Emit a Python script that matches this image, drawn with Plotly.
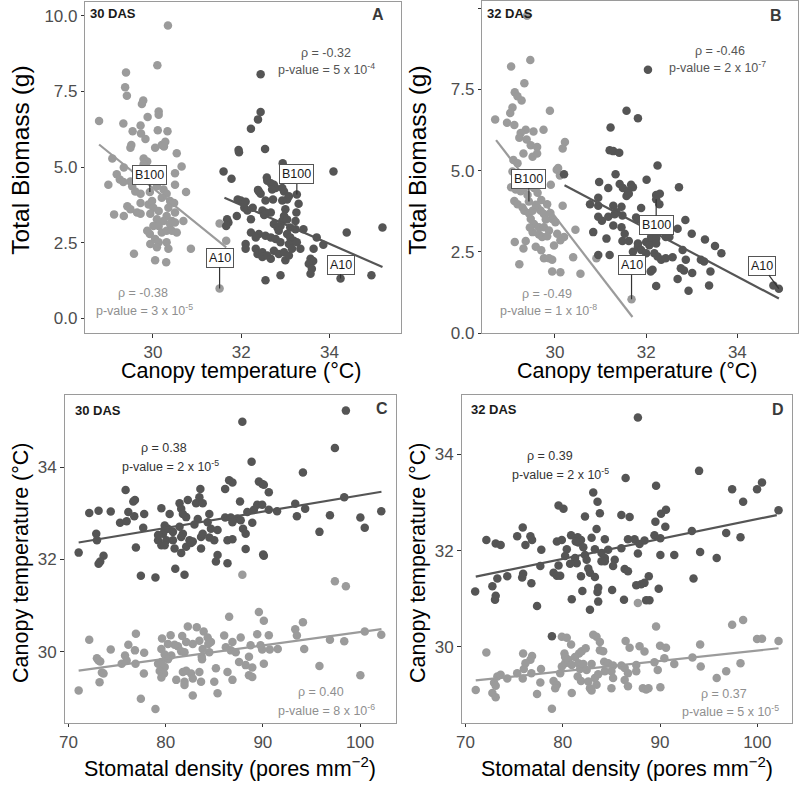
import plotly.graph_objects as go

# ---------------- DATA ----------------
# Panel A (30 DAS): canopy temperature (°C) vs total biomass (g)
a_light = [(30.34,9.68),(30.10,8.37),(29.39,8.13),(29.37,7.64),(29.41,7.36),(29.78,7.20),(29.75,7.09),(30.13,6.84),
           (30.13,6.73),(28.78,6.53),(29.33,6.44),(29.88,6.66),(29.72,6.38),(29.54,6.19),(29.73,6.11),(30.11,6.22),
           (30.33,6.19),(29.83,5.93),(29.51,5.73),(29.49,5.64),(30.05,5.64),(30.20,5.73),(30.28,5.84),(30.25,5.68),
           (30.54,5.46),(29.79,5.29),(29.87,5.19),(29.79,5.10),(29.08,5.29),(30.65,5.02),(30.50,4.80),(29.34,4.99),
           (29.18,4.77),(29.25,4.59),(29.33,4.51),(29.49,4.53),(29.53,4.37),(29.60,4.20),(29.72,4.12),(29.93,4.18),
           (30.24,4.26),(30.31,4.12),(30.20,3.99),(28.99,4.42),(30.09,4.37),(30.50,4.42),(30.75,4.18),(30.39,3.88),
           (30.48,3.82),(30.35,3.66),(29.42,3.71),(29.49,3.61),(29.72,3.82),(29.90,3.77),(29.98,3.88),(30.01,3.66),
           (29.12,3.44),(29.34,3.39),(29.64,3.50),(29.72,3.46),(29.94,3.46),(30.13,3.55),(30.31,3.39),(30.50,3.50),
           (30.43,3.22),(30.24,3.22),(30.39,3.12),(30.50,3.17),(30.09,3.28),(30.69,3.22),(30.01,3.06),(30.13,3.06),
           (29.87,2.90),(29.93,2.79),(30.20,2.84),(30.31,2.90),(30.43,2.90),(30.54,2.84),(30.05,2.63),(30.13,2.52),
           (30.09,2.35),(30.31,2.52),(30.35,2.30),(29.94,2.46),(30.86,2.30),(29.57,2.14),(30.05,1.92),(30.30,1.86),
           (31.51,3.14),(31.66,2.57),(31.51,0.99)]
a_dark = [(32.44,8.07),(32.44,6.82),(32.38,6.58),(32.22,6.27),(31.94,5.57),(31.95,5.49),(32.54,5.60),(32.94,5.13),
          (31.60,4.86),(31.78,4.62),(34.09,4.86),(32.58,4.66),(32.59,4.55),(32.67,4.47),(32.74,4.42),(32.78,4.31),
          (32.70,4.26),(32.40,4.20),(32.44,4.12),(32.38,4.25),(32.93,4.31),(32.97,4.20),(33.08,4.04),(33.04,3.93),
          (33.26,4.10),(33.30,3.79),(32.72,3.93),(32.55,3.90),(32.93,3.90),(31.92,3.93),(31.99,3.90),(32.10,3.86),
          (32.07,3.66),(32.14,3.57),(32.26,3.66),(32.48,3.57),(32.55,3.50),(32.67,3.50),(32.52,3.42),(31.90,3.39),
          (32.22,3.28),(33.00,3.61),(32.97,3.39),(32.93,3.22),(33.04,3.27),(33.25,3.50),(33.23,3.22),(32.74,3.12),
          (32.82,3.01),(32.89,3.06),(32.85,2.90),(33.11,3.01),(33.23,2.95),(33.41,2.95),(31.68,3.28),(31.71,3.17),
          (31.66,3.06),(32.22,2.84),(32.40,2.79),(32.33,2.68),(32.55,2.73),(32.67,2.68),(32.78,2.63),(32.89,2.52),
          (33.04,2.79),(33.11,2.68),(33.19,2.57),(33.08,2.46),(33.26,2.52),(33.34,2.30),(33.71,2.68),(33.86,2.44),
          (33.64,2.30),(33.57,1.97),(33.63,1.90),(33.53,1.81),(33.60,1.64),(33.57,1.48),(34.39,2.84),(35.20,3.01),
          (32.10,2.46),(32.10,2.30),(32.33,2.30),(32.37,2.13),(32.48,2.19),(32.48,2.03),(32.59,2.08),(32.67,1.97),
          (32.74,2.24),(32.85,2.13),(32.97,2.19),(33.00,1.92),(33.08,2.08),(33.15,2.30),(32.55,1.26),(32.89,1.43),
          (34.25,1.32),(34.95,1.43)]

# Panel B (32 DAS): canopy temperature (°C) vs total biomass (g)
b_light = [(29.39,9.76),(29.46,8.40),(29.04,8.20),(29.33,7.69),(29.12,7.41),(29.18,7.29),(29.27,7.16),(29.07,6.94),
           (29.02,6.77),(29.89,6.84),(28.69,6.57),(28.95,6.47),(29.11,6.40),(29.36,6.26),(29.53,6.20),(29.75,6.26),
           (29.25,6.16),(29.22,6.01),(29.38,5.96),(29.47,5.78),(29.61,5.73),(30.22,5.88),(30.17,5.68),(29.31,5.53),
           (29.51,5.43),(29.61,5.53),(29.09,5.33),(29.18,5.23),(29.07,4.97),(30.04,5.03),(30.11,4.85),(30.07,5.08),
           (29.91,4.57),(29.40,4.57),(29.04,4.49),(29.14,4.42),(29.25,4.37),(29.33,4.47),(29.43,4.05),(29.54,4.47),
           (29.62,4.32),(29.11,4.07),(29.18,3.97),(29.29,3.87),(29.33,3.77),(29.43,3.69),(29.51,3.77),(29.62,3.87),
           (29.69,3.77),(29.76,3.67),(29.83,3.97),(29.94,3.51),(30.01,3.41),(30.17,3.92),(29.47,3.51),(29.54,3.36),
           (29.65,3.26),(29.76,3.26),(29.87,3.16),(29.51,3.11),(29.65,3.04),(29.72,2.96),(29.83,2.98),(30.05,3.06),
           (30.20,2.96),(30.12,2.86),(30.45,3.18),(29.36,2.84),(29.31,2.61),(29.12,2.81),(29.58,2.66),(29.76,2.31),
           (29.87,2.31),(29.94,2.26),(30.40,2.34),(29.22,2.12),(29.94,1.90),(30.12,1.88),(30.56,1.83),(30.91,2.31),
           (31.68,1.05),(29.70,4.10),(29.80,3.50),(29.58,3.95),(29.90,3.70),(29.45,3.25),(29.98,2.70),(29.70,2.55),
           (29.40,4.25),(29.22,4.60)]
b_dark = [(32.04,8.10),(31.57,6.84),(31.82,6.61),(31.22,6.33),(31.20,5.63),(31.28,5.60),(31.41,5.55),(32.25,5.16),
          (31.33,4.89),(30.20,4.89),(32.01,4.72),(32.72,4.49),(30.97,4.65),(31.17,4.47),(31.42,4.59),(31.49,4.47),
          (31.67,4.57),(31.71,4.49),(31.60,4.37),(31.57,4.22),(31.62,4.29),(32.22,4.25),(32.30,4.29),(32.22,4.12),
          (32.29,3.97),(30.95,4.17),(30.77,3.97),(30.95,3.92),(31.28,3.92),(31.46,3.89),(31.35,3.72),(31.48,3.62),
          (31.89,3.85),(30.95,3.58),(31.03,3.46),(31.17,3.58),(31.31,3.66),(31.78,3.56),(31.82,3.51),(31.96,3.46),
          (32.03,3.44),(32.86,3.48),(30.84,3.11),(31.13,2.91),(31.28,3.31),(31.46,3.26),(31.53,3.06),(31.48,2.84),
          (31.62,2.84),(31.82,2.76),(32.00,2.81),(32.11,2.96),(32.14,2.86),(32.22,2.91),(32.07,2.71),(32.22,2.76),
          (32.43,2.96),(32.51,2.96),(32.69,3.21),(33.00,3.06),(33.29,2.88),(33.51,2.68),(33.65,2.46),(30.95,2.41),
          (31.20,2.41),(31.71,2.51),(31.82,2.66),(31.89,2.56),(32.00,2.46),(32.18,2.46),(32.25,2.36),(32.33,2.26),
          (32.43,2.31),(32.58,2.34),(32.80,2.56),(32.87,2.26),(33.20,2.26),(33.27,2.21),(32.76,2.00),(32.83,1.93),
          (33.01,1.85),(33.41,1.90),(32.14,1.95),(32.10,1.90),(31.78,1.97),(32.69,1.67),(32.22,1.45),(32.93,1.31),
          (33.38,1.47),(34.79,1.47),(34.91,1.37)]

# Panel C (30 DAS): stomatal density (pores mm-2) vs canopy temperature (°C)
c_light = [(86.53,30.76),(89.59,30.86),(90.10,30.67),(94.12,30.64),(93.33,30.49),(93.50,30.35),(100.48,30.44),
           (102.18,30.37),(96.90,30.26),(98.37,30.23),(94.25,30.06),(91.53,30.06),(95.82,29.69),(100.03,29.49),
           (72.14,30.26),(76.94,30.39),(74.35,30.05),(76.16,30.15),(76.84,30.03),(77.79,29.98),(75.82,29.92),
           (75.99,29.81),(75.48,29.74),(76.90,29.74),(72.93,29.86),(73.10,29.81),(73.27,29.79),(73.44,29.55),
           (73.61,29.53),(73.20,29.34),(71.05,29.16),(77.45,28.98),(78.95,28.76),(77.76,29.53),(79.63,30.29),
           (80.51,30.36),(81.70,30.34),(82.28,30.55),(83.20,30.53),(83.91,30.44),(84.32,30.31),(83.47,30.24),
           (82.79,30.17),(82.11,30.21),(81.26,30.12),(80.92,30.15),(80.24,30.17),(81.60,30.01),(81.94,29.99),
           (79.56,30.06),(79.90,29.94),(80.58,29.92),(80.24,29.84),(79.56,29.78),(79.22,29.74),(79.90,29.67),
           (79.39,29.58),(79.83,29.53),(79.56,29.44),(81.09,29.39),(81.77,29.56),(82.11,29.59),(82.62,29.53),
           (81.94,29.35),(82.79,29.42),(83.47,29.56),(83.64,29.35),(81.94,29.28),(82.79,29.05),(85.34,29.10),
           (85.17,29.64),(85.00,29.35),(83.71,29.89),(84.49,29.99),(83.81,30.06),(84.39,30.17),(84.66,30.21),
           (83.74,29.84),(86.02,30.35),(86.19,30.10),(86.70,30.03),(86.87,30.21),(87.72,30.31),(87.21,29.99),
           (86.36,29.56),(86.87,29.39),(87.55,29.78),(88.23,29.71),(88.57,29.89),(88.91,29.66),(88.57,29.49),
           (88.91,29.45),(88.74,30.14),(89.93,30.05),(90.10,29.74),(89.42,30.38),(89.76,30.14),(90.61,30.36),
           (90.71,30.05),(87.89,31.67),(97.41,31.53),(98.54,31.42)]
c_dark = [(87.89,34.99),(98.54,35.23),(97.41,34.42),(88.84,34.12),(94.12,33.89),(86.53,33.72),(86.87,33.67),
          (89.59,33.69),(89.93,33.64),(90.10,33.62),(90.61,33.46),(86.12,33.53),(75.88,33.51),(83.57,33.53),
          (76.84,33.29),(76.67,33.26),(81.43,33.22),(82.28,33.29),(83.13,33.22),(83.47,33.35),(83.81,33.22),
          (87.65,33.26),(98.37,33.35),(93.33,33.21),(94.35,33.10),(89.42,33.19),(89.93,33.19),(89.08,33.08),
          (88.40,33.03),(90.61,33.08),(91.46,33.05),(72.14,33.01),(73.10,33.06),(74.35,33.04),(76.16,33.03),
          (76.77,32.94),(77.79,32.99),(79.56,33.11),(80.41,32.99),(81.60,33.10),(81.77,32.99),(82.11,32.92),
          (84.49,32.99),(86.12,32.91),(86.70,32.91),(87.38,32.89),(93.50,32.94),(96.90,32.96),(100.03,32.91),
          (100.48,32.69),(102.18,33.05),(75.31,32.80),(75.99,32.83),(77.69,32.69),(79.90,32.74),(80.24,32.67),
          (79.73,32.56),(79.22,32.42),(79.90,32.64),(80.75,32.60),(81.43,32.71),(81.77,32.56),(83.30,32.88),
          (82.96,32.76),(84.32,32.81),(84.66,32.67),(85.34,32.64),(86.87,32.81),(87.72,32.85),(87.96,32.67),
          (88.91,32.80),(95.82,32.60),(72.86,32.56),(72.93,32.42),(79.22,32.53),(80.07,32.42),(79.56,32.31),
          (80.75,32.42),(81.60,32.49),(82.45,32.42),(82.79,32.39),(83.64,32.49),(83.81,32.56),(84.49,32.48),
          (85.00,32.42),(86.36,32.42),(86.87,32.44),(88.23,32.56),(76.94,32.26),(79.90,32.31),(80.92,32.24),
          (82.11,32.28),(82.62,32.36),(83.64,32.24),(81.60,32.14),(85.34,32.10),(85.17,31.96),(86.36,31.92),
          (88.23,32.23),(90.03,32.11),(90.10,32.08),(71.05,32.15),(73.61,32.08),(73.27,31.96),(73.10,31.91),
          (77.45,31.65),(78.95,31.61),(80.99,31.80),(81.94,31.67)]

# Panel D (32 DAS): stomatal density (pores mm-2) vs canopy temperature (°C)
d_light = [(87.72,30.91),(89.59,30.42),(97.41,30.46),(98.54,30.56),(99.97,30.16),(100.48,30.17),(102.18,30.12),
           (94.12,30.05),(90.00,30.02),(90.61,29.98),(86.46,30.12),(86.87,29.98),(87.89,30.01),(88.40,29.90),
           (83.13,30.25),(83.47,30.21),(83.81,30.10),(79.90,30.21),(80.41,30.19),(80.85,30.05),(81.67,29.86),
           (81.94,29.91),(82.35,29.97),(80.17,29.86),(80.24,29.79),(83.81,29.93),(84.15,29.91),(72.14,29.88),
           (75.92,29.86),(76.84,29.81),(76.67,29.73),(76.16,29.66),(75.99,29.54),(75.31,29.45),(74.29,29.34),
           (73.27,29.38),(73.61,29.42),(72.93,29.25),(73.10,29.19),(71.05,29.10),(72.76,29.04),(73.10,28.95),
           (75.88,29.34),(76.77,29.45),(77.76,29.54),(77.69,29.26),(77.35,29.02),(78.88,28.71),(79.05,29.29),
           (79.39,29.21),(79.90,29.59),(80.24,29.66),(80.58,29.73),(80.92,29.62),(81.26,29.79),(81.60,29.66),
           (81.77,29.54),(82.11,29.64),(82.96,29.64),(82.45,29.52),(79.73,29.45),(79.22,29.14),(80.92,29.04),
           (81.53,29.38),(81.87,29.29),(82.62,29.28),(82.79,29.14),(82.96,29.09),(83.47,29.21),(83.30,29.35),
           (83.64,29.43),(84.25,29.69),(84.66,29.66),(85.17,29.61),(85.00,29.49),(84.32,29.49),(85.17,29.35),
           (85.00,29.14),(86.02,29.61),(86.36,29.56),(86.70,29.45),(86.36,29.31),(86.70,29.18),(87.55,29.62),
           (87.55,29.49),(88.23,29.14),(88.57,29.11),(88.81,29.14),(90.03,29.16),(89.42,29.68),(89.76,29.52),
           (90.44,29.76),(91.46,29.64),(93.33,29.78),(94.18,29.59),(95.82,29.35),(96.80,29.49),(98.27,29.66)]
d_dark = [(87.72,34.77),(94.01,33.66),(86.46,33.51),(89.59,33.35),(97.41,33.28),(99.97,33.28),(100.48,33.42),
          (98.54,33.02),(102.18,32.84),(83.13,33.21),(83.57,33.02),(79.56,32.94),(80.07,32.87),(83.81,32.78),
          (82.28,32.71),(86.02,32.74),(86.87,32.70),(90.10,32.77),(90.61,32.85),(89.52,32.60),(90.54,32.50),
          (83.47,32.45),(75.88,32.48),(75.31,32.30),(76.67,32.30),(76.84,32.22),(76.16,32.12),(72.14,32.22),
          (73.10,32.15),(73.61,32.12),(77.79,32.02),(79.39,32.19),(79.90,32.22),(80.85,32.32),(81.53,32.28),
          (81.87,32.22),(81.60,32.17),(81.33,32.19),(82.96,32.27),(84.32,32.24),(82.11,32.07),(80.41,32.03),
          (80.24,31.89),(81.26,31.85),(81.43,31.74),(80.75,31.73),(79.56,31.69),(82.28,31.91),(82.45,31.81),
          (83.30,32.03),(83.98,31.95),(84.66,32.02),(84.32,31.85),(84.32,31.78),(85.34,31.81),(85.17,31.68),
          (83.98,31.78),(86.02,32.05),(86.70,32.24),(87.38,32.24),(88.40,32.21),(87.89,32.14),(89.42,32.32),
          (90.03,32.26),(87.72,31.94),(90.03,31.91),(91.46,31.91),(93.27,32.41),(94.12,31.97),(95.82,31.85),
          (96.80,32.37),(98.27,32.28),(77.69,31.68),(75.92,31.52),(75.82,31.44),(74.29,31.47),(73.27,31.42),
          (72.76,31.26),(70.99,31.15),(73.10,31.06),(73.03,30.98),(76.77,31.32),(77.35,30.85),(79.05,31.54),
          (79.39,31.48),(79.73,31.48),(81.87,31.47),(82.79,31.54),(83.30,31.45),(82.62,31.63),(86.36,31.62),
          (86.70,31.57),(88.84,31.47),(88.40,31.33),(88.06,31.30),(87.55,31.28),(89.86,31.21),(93.44,31.42),
          (83.64,31.23),(83.57,31.14),(85.07,31.18),(82.01,31.16),(80.92,30.99),(83.64,30.94),(82.79,30.77),
          (86.29,30.98),(88.57,30.97),(88.91,30.97),(78.88,30.22)]

# Fitted regression lines (end points)
a_fit_light = [(28.78,5.75),(31.66,2.35)]
a_fit_dark = [(31.62,3.99),(35.20,1.70)]
b_fit_light = [(28.71,5.94),(31.70,0.50)]
b_fit_dark = [(30.21,4.55),(34.91,1.07)]
c_fit_light = [(71.05,29.59),(102.2,30.49)]
c_fit_dark = [(71.05,32.37),(102.2,33.47)]
d_fit_light = [(71.05,29.30),(102.18,29.97)]
d_fit_dark = [(71.05,31.46),(102.0,32.74)]

# Correlation statistics text
stats_text = {
    "A": [("ρ = -0.32", "p-value = 5 x 10<sup>-4</sup>", "dark"), ("ρ = -0.38", "p-value = 3 x 10<sup>-5</sup>", "light")],
    "B": [("ρ = -0.46", "p-value = 2 x 10<sup>-7</sup>", "dark"), ("ρ = -0.49", "p-value = 1 x 10<sup>-8</sup>", "light")],
    "C": [("ρ = 0.38", "p-value = 2 x 10<sup>-5</sup>", "dark"), ("ρ = 0.40", "p-value = 8 x 10<sup>-6</sup>", "light")],
    "D": [("ρ = 0.39", "p-value = 2 x 10<sup>-5</sup>", "dark"), ("ρ = 0.37", "p-value = 5 x 10<sup>-5</sup>", "light")],
}
panel_day = {"A": "30 DAS", "B": "32 DAS", "C": "30 DAS", "D": "32 DAS"}
biomass_ticks = [0, 2.5, 5.0, 7.5, 10.0]
biomass_ticktext = ["0.0", "2.5", "5.0", "7.5", "10.0"]
temp_ticks_x = [30, 32, 34]
temp_ticks_y = [30, 32, 34]
density_ticks = [70, 80, 90, 100]

# ---------------- STYLE / LAYOUT ----------------
W, H = 800, 786
LIGHT = "#9b9b9b"
DARK = "#555555"
FONT = "Liberation Sans, Arial, Helvetica, sans-serif"

def pxx(px):
    return px / W

def pxy(py):
    return 1 - py / H

panels = {
    "A": dict(ax="x", ay="y", xdom=[80, 398], ydom=[1, 337], xr=[28.47, 35.62], yr=[-0.49, 10.46],
              light=a_light, dark=a_dark, fl=a_fit_light, fd=a_fit_dark),
    "B": dict(ax="x2", ay="y2", xdom=[480, 798], ydom=[0.5, 337], xr=[28.41, 35.33], yr=[0.0, 10.2],
              light=b_light, dark=b_dark, fl=b_fit_light, fd=b_fit_dark),
    "C": dict(ax="x3", ay="y3", xdom=[59, 393], ydom=[400, 732], xr=[69.6, 103.7], yr=[28.46, 35.56],
              light=c_light, dark=c_dark, fl=c_fit_light, fd=c_fit_dark),
    "D": dict(ax="x4", ay="y4", xdom=[459, 792], ydom=[400, 732], xr=[69.59, 103.57], yr=[28.42, 35.23],
              light=d_light, dark=d_dark, fl=d_fit_light, fd=d_fit_dark),
}

fig = go.Figure()

for key, p in panels.items():
    for pts, col in ((p["light"], LIGHT), (p["dark"], DARK)):
        fig.add_trace(go.Scatter(
            x=[q[0] for q in pts], y=[q[1] for q in pts], mode="markers",
            marker=dict(size=8.5, color=col, line=dict(width=0)),
            xaxis=p["ax"], yaxis=p["ay"], hoverinfo="skip"))
    for fit, col in ((p["fl"], LIGHT), (p["fd"], DARK)):
        fig.add_trace(go.Scatter(
            x=[q[0] for q in fit], y=[q[1] for q in fit], mode="lines",
            line=dict(color=col, width=2.2), xaxis=p["ax"], yaxis=p["ay"], hoverinfo="skip"))

axis_common = dict(showline=True, mirror=True, linecolor="#9a9a9a", linewidth=1,
                   ticks="outside", ticklen=3.5, tickwidth=1, tickcolor="#333333",
                   showgrid=False, zeroline=False,
                   tickfont=dict(size=17, color="#4d4d4d", family=FONT))

layout_axes = {}
for i, (key, p) in enumerate(panels.items()):
    sfx = "" if i == 0 else str(i + 1)
    xa = dict(axis_common, domain=[pxx(p["xdom"][0]), pxx(p["xdom"][1])], range=p["xr"],
              anchor="y" + sfx)
    ya = dict(axis_common, domain=[pxy(p["ydom"][1]), pxy(p["ydom"][0])], range=p["yr"],
              anchor="x" + sfx)
    if key in ("A", "B"):
        xa.update(tickvals=temp_ticks_x)
        ya.update(tickvals=biomass_ticks, ticktext=biomass_ticktext)
    else:
        xa.update(tickvals=density_ticks)
        ya.update(tickvals=temp_ticks_y)
    layout_axes["xaxis" + sfx] = xa
    layout_axes["yaxis" + sfx] = ya

annotations = []

# axis titles
def add_title(text, px, py, angle=0, size=21.5):
    annotations.append(dict(text=text, x=pxx(px), y=pxy(py), xref="paper", yref="paper",
                            showarrow=False, textangle=angle, xanchor="center", yanchor="middle",
                            font=dict(size=size, color="black", family=FONT)))

add_title("Total Biomass (g)", 15, 161, -90, 24.5)
add_title("Total Biomass (g)", 415, 161, -90, 24.5)
add_title("Canopy temperature (°C)", 237, 375)
add_title("Canopy temperature (°C)", 636, 375)
add_title("Canopy temperature (°C)", 15, 570, -90)
add_title("Canopy temperature (°C)", 415, 570, -90)
add_title("Stomatal density (pores mm<sup>−2</sup>)", 226, 777)
add_title("Stomatal density (pores mm<sup>−2</sup>)", 626, 777)

# panel tags
tag_pos = {"A": ((83, 13), (375, 14)), "B": ((483, 13), (776, 15)),
           "C": ((68, 415), (379, 413)), "D": ((467, 414), (778, 414))}
for key, ((dx, dy), (lx, ly)) in tag_pos.items():
    annotations.append(dict(text="<b>%s</b>" % panel_day[key], x=pxx(dx), y=pxy(dy), xref="paper", yref="paper",
                            showarrow=False, xanchor="left", yanchor="middle",
                            font=dict(size=13, color="#1a1a1a", family=FONT)))
    annotations.append(dict(text="<b>%s</b>" % key, x=pxx(lx), y=pxy(ly), xref="paper", yref="paper",
                            showarrow=False, xanchor="center", yanchor="middle",
                            font=dict(size=16, color="#3a3a3a", family=FONT)))

# statistics text positions (data coordinates): (rho x,y), (p x,y)
stats_pos = {
    "A": [((33.93, 8.76), (33.93, 8.24)), ((29.78, 0.85), (29.82, 0.29))],
    "B": [((33.61, 8.67), (33.57, 8.19)), ((29.83, 1.21), (29.87, 0.73))],
    "C": [((79.8, 34.41), (80.5, 34.02)), ((96.02, 29.12), (96.5, 28.74))],
    "D": [((78.7, 33.97), (79.73, 33.60)), ((96.56, 29.01), (97.24, 28.67))],
}
for key, p in panels.items():
    for (rho, pv, grp), ((rx, ry), (qx, qy)) in zip(stats_text[key], stats_pos[key]):
        if grp == "light":
            col = "#8f8f8f"
        else:
            col = "#555555" if key in ("A", "B") else "#333333"
        for txt, xx, yy in ((rho, rx, ry), (pv, qx, qy)):
            annotations.append(dict(text=txt, x=xx, y=yy, xref=p["ax"], yref=p["ay"], showarrow=False,
                                    xanchor="center", yanchor="middle",
                                    font=dict(size=12.5, color=col, family=FONT)))

# genotype labels (point, label offset in px)
labels = [
    ("A", "B100", 29.93, 4.18, 0, -17), ("A", "A10", 31.51, 0.99, 0, -31),
    ("A", "B100", 33.26, 4.10, 0, -20), ("A", "A10", 34.25, 1.32, 0, -14),
    ("B", "B100", 29.43, 4.05, 0, -23), ("B", "A10", 31.68, 1.05, 0, -34),
    ("B", "B100", 32.22, 4.12, 0, 26), ("B", "A10", 34.91, 1.37, -17, -23),
]
for key, txt, xx, yy, ox, oy in labels:
    p = panels[key]
    annotations.append(dict(text=txt, x=xx, y=yy, xref=p["ax"], yref=p["ay"], showarrow=True,
                            arrowhead=0, arrowwidth=1.2, arrowcolor="#333333", ax=ox, ay=oy,
                            standoff=0, startstandoff=0,
                            bgcolor="white", bordercolor="#555555", borderwidth=1, borderpad=2,
                            font=dict(size=12.5, color="#1a1a1a", family=FONT)))

fig.update_layout(width=W, height=H, margin=dict(l=0, r=0, t=0, b=0), autosize=False,
                  paper_bgcolor="white", plot_bgcolor="white", showlegend=False,
                  font=dict(family=FONT), annotations=annotations, **layout_axes)

fig.write_html("out.html", config={"displayModeBar": False, "staticPlot": True},
               post_script="document.body.style.margin='0';document.body.style.overflow='hidden';")
